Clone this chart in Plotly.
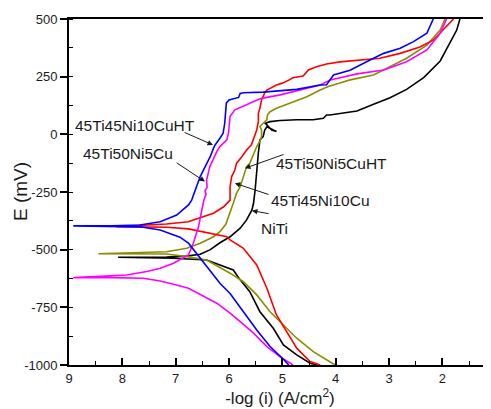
import plotly.graph_objects as go

# ---- data: -log(i) [A/cm^2] and E [mV]; each path runs from the bottom of the
# cathodic branch up to Ecorr, then along the anodic branch to the top ----
ht10_x = [4.88, 4.98, 5.23, 5.48, 5.73, 5.98, 6.17, 6.42, 6.67, 6.76, 6.92, 7.04, 7.29, 7.67, 8.2, 8.92,
          8.2, 7.67, 7.29, 6.98, 6.76, 6.70, 6.54, 6.35, 6.29, 6.26, 6.17, 6.11, 6.08, 6.05, 6.00, 5.90,
          5.82, 5.79, 5.73, 5.36, 4.73, 4.29, 4.17, 4.04, 3.73, 3.42, 3.10, 2.79, 2.54, 2.29, 2.22, 2.17]
ht10_e = [-1000, -975, -920, -848, -769, -690, -646, -574, -501, -472, -446, -436, -415, -401, -398, -397,
          -396, -393, -379, -350, -306, -285, -183, -96, -60, -46, -17, 5, 48, 135, 149, 155,
          160, 177, 180, 183, 195, 214, 215, 257, 278, 315, 351, 373, 402, 438, 470, 500]

cu5_x = [4.80, 5.04, 5.29, 5.54, 5.79, 5.98, 6.23, 6.54, 6.76, 7.04, 7.29, 7.61, 8.2, 8.92,
         8.2, 7.92, 7.54, 7.29, 7.04, 6.76, 6.67, 6.57, 6.51, 6.47, 6.43, 6.45, 6.41, 6.42, 6.39,
         6.36, 6.30, 6.23, 6.17, 6.11, 6.04, 6.01, 6.00, 5.98, 5.89, 5.83, 5.76, 5.67, 5.54, 5.45,
         5.39, 5.04, 4.54, 4.29, 4.10, 3.60, 3.10, 2.67, 2.29, 2.04, 1.92]
cu5_e = [-1000, -965, -920, -862, -812, -775, -732, -696, -667, -650, -636, -624, -621, -621,
         -614, -610, -595, -581, -559, -523, -472, -400, -328, -285, -260, -245, -230, -198, -169,
         -140, -111, -75, -53, -39, -24, 5, 41, 77, 106, 113, 120, 128, 142, 152,
         156, 171, 200, 214, 236, 262, 279, 315, 366, 438, 500]

cu10_x = [4.29, 4.48, 4.73, 4.92, 5.11, 5.29, 5.48, 5.73, 5.98, 6.04, 6.54, 6.76, 7.17, 8.11,
          7.17, 6.76, 6.67, 6.29, 6.10, 5.98, 5.98, 5.95, 5.89, 5.86, 5.76, 5.67, 5.58, 5.52, 5.48,
          5.45, 5.45, 5.42, 5.39, 5.33, 5.29, 5.11, 5.00, 4.88, 4.80, 4.61, 4.51, 4.36, 4.17, 3.92,
          3.54, 3.17, 2.79, 2.42, 2.17, 1.92, 1.79]
cu10_e = [-1000, -985, -927, -855, -783, -667, -566, -494, -458, -444, -422, -410, -403, -400,
          -389, -379, -371, -342, -314, -285, -227, -183, -155, -126, -97, -68, -45, -10, 19,
          55, 91, 113, 149, 180, 192, 214, 222, 235, 245, 253, 279, 293, 305, 314,
          322, 330, 351, 379, 408, 467, 500]

ht5_x = [4.01, 4.11, 4.42, 4.73, 4.98, 5.23, 5.48, 5.73, 5.98, 6.42, 6.79, 7.17, 8.45,
         7.17, 6.79, 6.54, 6.29, 6.17, 6.06, 5.98, 5.92, 5.86, 5.79, 5.76, 5.73, 5.70, 5.67, 5.61,
         5.54, 5.48, 5.42, 5.39, 5.39, 5.42, 5.36, 5.29, 5.28, 5.23, 5.11, 4.86, 4.54, 4.29, 4.14,
         3.95, 3.73, 3.29, 3.10, 2.92, 2.67, 2.29, 2.04, 1.95]
ht5_e = [-1000, -985, -942, -884, -826, -769, -696, -639, -602, -545, -530, -519, -518,
         -509, -494, -472, -444, -422, -390, -343, -299, -256, -227, -205, -183, -162, -140, -126,
         -89, -53, -30, -10, 19, 34, 48, 63, 84, 98, 113, 135, 163, 192, 207,
         220, 236, 257, 279, 301, 330, 387, 452, 500]

niti_x = [4.35, 4.48, 4.73, 4.98, 5.17, 5.42, 5.61, 5.79, 5.92, 6.42, 7.04, 8.08,
          7.17, 6.80, 6.54, 6.35, 6.17, 5.98, 5.79, 5.67, 5.57, 5.54, 5.51, 5.48, 5.45, 5.42,
          5.36, 5.33, 5.29, 5.11, 5.20, 5.29, 5.32, 5.23, 5.04, 4.73, 4.42, 4.23, 4.17, 4.11,
          3.92, 3.60, 3.29, 2.98, 2.67, 2.35, 2.04, 1.86, 1.73, 1.67]
niti_e = [-1000, -992, -956, -913, -841, -769, -682, -631, -588, -545, -537, -533,
          -532, -528, -520, -500, -470, -444, -407, -371, -328, -299, -241, -140, -82, -24,
          -10, 19, 33, 12, 19, 41, 48, 55, 60, 63, 63, 70, 84, 84,
          90, 101, 130, 159, 195, 246, 318, 394, 452, 500]

names = ["NiTi", "45Ti50Ni5CuHT", "45Ti45Ni10Cu", "45Ti50Ni5Cu", "45Ti45Ni10CuHT"]
colors = ["#000000", "#8c8c00", "#ff0000", "#ff00ff", "#0000ff"]
xs = [niti_x, ht5_x, cu10_x, cu5_x, ht10_x]
es = [niti_e, ht5_e, cu10_e, cu5_e, ht10_e]

x_ticks = [9, 8, 7, 6, 5, 4, 3, 2]
y_ticks = [500, 250, 0, -250, -500, -750, -1000]

FONT = "Liberation Sans, Arial, sans-serif"
INK = "#1a1a1a"

fig = go.Figure()
for n, c, x, e in zip(names, colors, xs, es):
    fig.add_trace(go.Scatter(x=x, y=e, mode="lines", name=n,
                             line=dict(color=c, width=1.6), showlegend=False))

# label texts (x, E) and arrows (tail -> tip)
labels = [
    ("45Ti45Ni10CuHT", 7.77, 40, (6.86, 11), (6.30, -46)),
    ("45Ti50Ni5Cu", 7.89, -81, (7.01, -119), (6.45, -205)),
    ("45Ti50Ni5CuHT", 4.07, -126, (4.95, -85), (5.70, -147)),
    ("45Ti45Ni10Cu", 4.28, -288, (5.23, -263), (5.89, -212)),
    ("NiTi", 5.14, -407, (5.23, -345), (5.57, -331)),
]
lab_font = dict(family=FONT, size=15.5, color=INK)
for txt, lx, ly, tail, tip in labels:
    fig.add_annotation(x=lx, y=ly, text=txt, showarrow=False, font=lab_font,
                       xanchor="center", yanchor="middle")
    fig.add_annotation(x=tip[0], y=tip[1], ax=tail[0], ay=tail[1], axref="x", ayref="y",
                       text="", showarrow=True, arrowhead=2, arrowsize=1.1,
                       arrowwidth=1, arrowcolor=INK)

# y-axis title as a rotated annotation placed left of the tick labels
fig.add_annotation(xref="paper", yref="paper", x=-0.116, y=0.5, text="E (mV)",
                   textangle=-90, showarrow=False, xanchor="center", yanchor="middle",
                   font=dict(family=FONT, size=19, color=INK))

tick_font = dict(family=FONT, size=13, color=INK)
fig.update_layout(
    width=483, height=401, autosize=False,
    margin=dict(l=61, r=0, t=11, b=44, autoexpand=False),
    paper_bgcolor="white", plot_bgcolor="white",
    xaxis=dict(range=[9, 1.0875], tickvals=x_ticks, ticktext=[str(v) for v in x_ticks],
               ticks="inside", ticklen=7, tickwidth=1.6, tickcolor="black",
               minor=dict(dtick=0.5, ticks="inside", ticklen=4, tickwidth=1.4, tickcolor="black"),
               showline=True, linewidth=2, linecolor="black", mirror=True,
               showgrid=False, zeroline=False, tickfont=tick_font, ticklabelstandoff=0,
               automargin=False,
               title=dict(text="-log (i) (A/cm<sup>2</sup>)", standoff=4,
                          font=dict(family=FONT, size=17, color=INK))),
    yaxis=dict(range=[-1000, 500], tickvals=y_ticks, ticktext=[str(v) for v in y_ticks],
               ticks="outside", ticklen=7, tickwidth=1.6, tickcolor="black",
               minor=dict(dtick=125, tick0=0, ticks="inside", ticklen=4, tickwidth=1.4,
                          tickcolor="black"),
               showline=True, linewidth=2, linecolor="black", mirror=False,
               showgrid=False, zeroline=False, tickfont=tick_font, automargin=False),
)

fig.write_html("out.html")
